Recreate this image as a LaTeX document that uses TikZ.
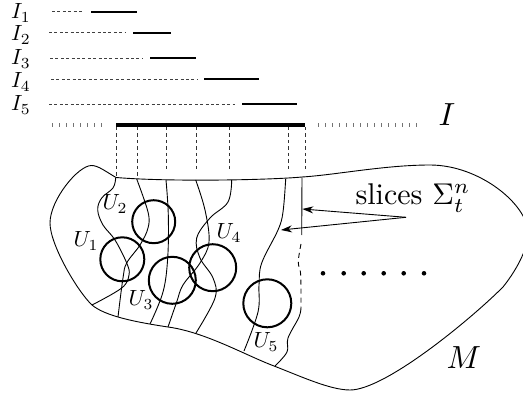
\documentclass[tikz,border=0pt]{standalone}
\usepackage{amsmath}
\usetikzlibrary{arrows.meta}
\tikzset{
  thinline/.style={line width=0.9pt,line join=round},
  hair/.style={thinline,smooth,tension=0.6},
  dashline/.style={line width=0.8pt,black!75,dash pattern=on 3pt off 2.4pt},
  dropline/.style={line width=0.9pt,black!80,dash pattern=on 3.5pt off 3pt},
  tickline/.style={line width=3.4pt,black!55,dash pattern=on 1pt off 6pt},
  bar/.style={line width=2pt},
  mainbar/.style={line width=3.6pt},
  chart/.style={line width=2pt},
  pointer/.style={line width=0.9pt,-{Stealth[length=11pt,width=7pt]}},
  biglabel/.style={inner sep=0pt,scale=3.2},
  slabel/.style={inner sep=0pt,scale=3},
  ilabel/.style={inner sep=0pt,scale=2.2},
  ulabel/.style={inner sep=0pt,scale=2.2},
  dotmark/.style={circle,fill=black,inner sep=0pt,minimum size=4.6pt}
}
\begin{document}
\begin{tikzpicture}[x=1pt,y=-1pt]
\useasboundingbox (0,0) rectangle (523,396);
% interval labels
\node[ilabel] (i1) at (21,13) {$I_1$};
\node[ilabel] (i2) at (21,35) {$I_2$};
\node[ilabel] (i3) at (21,59) {$I_3$};
\node[ilabel] (i4) at (21,82) {$I_4$};
\node[ilabel] (i5) at (21,105) {$I_5$};
% intervals
\draw[dashline] (52,11.7) -- (84,11.7);  \draw[bar] (91,11.7) -- (137,11.7);
\draw[dashline] (49,32.7) -- (126,32.7); \draw[bar] (133,32.7) -- (171,32.7);
\draw[dashline] (50,58) -- (142,58);     \draw[bar] (150,58) -- (196,58);
\draw[dashline] (51,79) -- (197,79);     \draw[bar] (204,79) -- (259,79);
\draw[dashline] (49,104) -- (235,104);   \draw[bar] (242,104) -- (297,104);
% main interval
\draw[tickline] (52,125) -- (104,125);
\draw[tickline] (318,125) -- (420,125);
\draw[mainbar] (116,125) -- (305,125);
\node[biglabel] (I) at (447,115) {$I$};
% drops
\foreach \x/\e in {116/177,137/177,166.5/172,196/172,229.5/172,288/172,305/172}
  \draw[dropline] (\x,127) -- (\x,\e);
% M outline
\draw[thinline] (116,177.5) .. controls (105,171) and (98,165.5) .. (91.5,165.5)
  .. controls (78,165.5) and (50,200) .. (50,223)
  .. controls (50,245) and (78,292) .. (92,305)
  .. controls (105,316) and (135,322) .. (168,327)
  .. controls (205,332) and (245,355) .. (274,366)
  .. controls (300,376) and (330,390) .. (350,390)
  .. controls (385,390) and (470,320) .. (503,287)
  .. controls (515,272) and (528,250) .. (528,233)
  .. controls (528,205) and (480,165) .. (430,165)
  .. controls (385,165) and (335,175) .. (302,177)
  .. controls (270,180) and (170,182) .. (116,177.5);
% slices
\draw[hair] plot coordinates {(115.7,178) (113,188) (101.7,198) (97.7,210) (103,225) (115,240) (126.7,263) (129,275) (121.7,288) (92,305)};
\draw[hair] plot coordinates {(136.7,179) (148,212) (148,228) (140,245) (126.7,263) (123,278) (118,317)};
\draw[hair] plot coordinates {(166,180) (168.3,215) (167.7,258) (163,292) (150,324)};
\draw[hair] plot coordinates {(195.7,180) (205,210) (209,242) (200,263) (183,285) (176.7,302) (168,327)};
\draw[hair] plot coordinates {(231.7,180) (228,202) (210,218) (196.7,238) (200,258) (213,278) (215,298) (196,333)};
\draw[hair] plot coordinates {(285.7,179) (283,212) (278,230) (261.7,263) (259,285) (258,312) (244,351)};
\draw[thinline] (302,177.5) -- (301.7,235);
\draw[thinline,dash pattern=on 5pt off 4pt] plot[smooth,tension=0.6] coordinates {(301,244) (298.3,262) (300.7,275) (301,307)};
\draw[hair] plot coordinates {(301,307) (299,317) (288,338) (287,352) (275,366)};
% charts
\node[chart,draw,circle,inner sep=0pt,minimum size=44pt] (c1) at (122.3,259.3) {};
\node[chart,draw,circle,inner sep=0pt,minimum size=43pt] (c2) at (153.7,221.7) {};
\node[chart,draw,circle,inner sep=0pt,minimum size=47pt] (c3) at (172.3,280.3) {};
\node[chart,draw,circle,inner sep=0pt,minimum size=47pt] (c4) at (212.7,267.7) {};
\node[chart,draw,circle,inner sep=0pt,minimum size=48pt] (c5) at (267.3,303.3) {};
\node[ulabel] (u1) at (86,241) {$U_1$};
\node[ulabel] (u2) at (115,204) {$U_2$};
\node[ulabel] (u3) at (141,300) {$U_3$};
\node[ulabel] (u4) at (229,233) {$U_4$};
\node[ulabel] (u5) at (266,342) {$U_5$};
% slices label
\node[slabel] (sl) at (413,198) {slices $\Sigma_t^n$};
\coordinate (src) at (406,217.3);
\coordinate (ta) at (302.3,209);
\coordinate (tb) at (281,230);
\draw[pointer] (src) -- (ta);
\draw[pointer] (src) -- (tb);
% dots
\foreach \x/\n in {323/1,343.7/2,363.7/3,383.7/4,403.7/5,424/6}
  \node[dotmark] (d\n) at (\x,273.3) {};
\node[biglabel] (M) at (464,358) {$M$};
\end{tikzpicture}
\end{document}
